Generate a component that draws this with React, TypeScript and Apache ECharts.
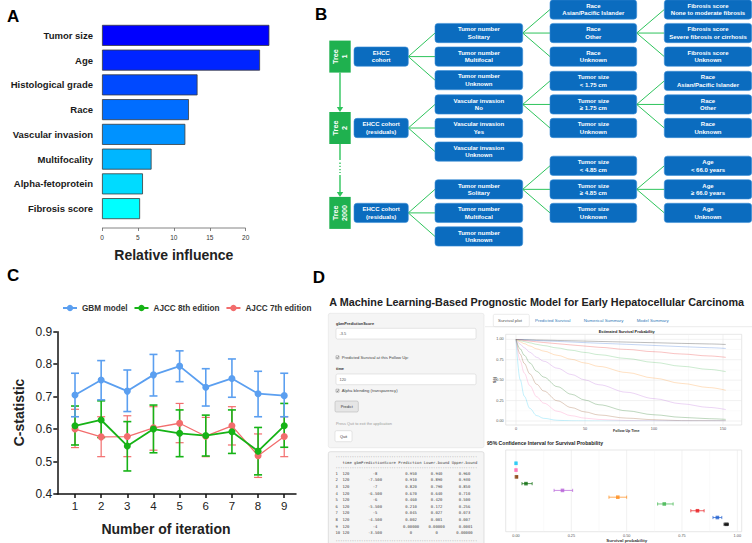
import React, { useEffect, useRef } from "react";
import * as echarts from "echarts";

const FONT = "'Liberation Sans', Arial, Helvetica, sans-serif";
const MONO = "'DejaVu Sans Mono', 'Liberation Mono', monospace";

// ---------------- Panel A data ----------------
const influenceLabels = ["Tumor size", "Age", "Histological grade", "Race", "Vascular invasion", "Multifocality", "Alpha-fetoprotein", "Fibrosis score"];
const influenceValues = [23.3, 22.0, 13.3, 12.1, 11.6, 6.9, 5.7, 5.3];
const influenceColors = ["#0000ff", "#0024ff", "#0049ff", "#006dff", "#0092ff", "#00b6ff", "#00dbff", "#00ffff"];
const influenceTicks = [0, 5, 10, 15, 20];

// ---------------- Panel B data ----------------
const treeNames = ["Tree\n1", "Tree\n2", "Tree\n2000"];
const rootNodes = ["EHCC\ncohort", "EHCC cohort\n(residuals)", "EHCC cohort\n(residuals)"];
const level1Nodes = [
  ["Tumor number\nSolitary", "Tumor number\nMultifocal", "Tumor number\nUnknown"],
  ["Vascular invasion\nNo", "Vascular invasion\nYes", "Vascular invasion\nUnknown"],
  ["Tumor number\nSolitary", "Tumor number\nMultifocal", "Tumor number\nUnknown"],
];
const level1Expanded = [0, 0, 0];
const level2Nodes = [
  ["Race\nAsian/Pacific Islander", "Race\nOther", "Race\nUnknown"],
  ["Tumor size\n< 1.75 cm", "Tumor size\n≥ 1.75 cm", "Tumor size\nUnknown"],
  ["Tumor size\n< 4.85 cm", "Tumor size\n≥ 4.85 cm", "Tumor size\nUnknown"],
];
const level2Expanded = [1, 1, 1];
const level3Nodes = [
  ["Fibrosis score\nNone to moderate fibrosis", "Fibrosis score\nSevere fibrosis or cirrhosis", "Fibrosis score\nUnknown"],
  ["Race\nAsian/Pacific Islander", "Race\nOther", "Race\nUnknown"],
  ["Age\n< 66.0 years", "Age\n≥ 66.0 years", "Age\nUnknown"],
];

// ---------------- Panel C data ----------------
const iterations = [1, 2, 3, 4, 5, 6, 7, 8, 9];
const seriesNames = ["GBM model", "AJCC 8th edition", "AJCC 7th edition"];
const seriesColors = ["#5b9ff0", "#16b316", "#f26d6d"];
const gbmMean = [0.705, 0.751, 0.717, 0.767, 0.794, 0.729, 0.756, 0.709, 0.703];
const gbmLow = [0.638, 0.690, 0.654, 0.702, 0.746, 0.671, 0.698, 0.638, 0.638];
const gbmHigh = [0.772, 0.811, 0.782, 0.830, 0.841, 0.786, 0.816, 0.778, 0.772];
const ajcc8Mean = [0.610, 0.628, 0.548, 0.600, 0.587, 0.580, 0.592, 0.532, 0.610];
const ajcc8Low = [0.551, 0.574, 0.471, 0.527, 0.515, 0.517, 0.525, 0.459, 0.544];
const ajcc8High = [0.671, 0.687, 0.623, 0.674, 0.659, 0.643, 0.659, 0.605, 0.679];
const ajcc7Mean = [0.600, 0.576, 0.577, 0.604, 0.618, 0.578, 0.610, 0.518, 0.577];
const ajcc7Low = [0.543, 0.515, 0.515, 0.535, 0.558, 0.515, 0.551, 0.451, 0.515];
const ajcc7High = [0.661, 0.638, 0.641, 0.669, 0.679, 0.636, 0.669, 0.585, 0.638];
const cYTicks = [0.4, 0.9];

// ---------------- Panel D data ----------------
const dTitle = "A Machine Learning-Based Prognostic Model for Early Hepatocellular Carcinoma";
const tabLabels = ["Survival plot", "Predicted Survival", "Numerical Summary", "Model Summary"];
const scoreInput = "-3.5";
const timeInput = "120";
const followUpTime = 120;
const predScores = [-8, -7.5, -7, -6.5, -6, -5.5, -5, -4.5, -4, -3.5];
const predText = ["0.950", "0.910", "0.820", "0.670", "0.460", "0.210", "0.045", "0.002", "0.00000", "0"];
const lowerText = ["0.940", "0.890", "0.790", "0.640", "0.420", "0.172", "0.027", "0.001", "0.00000", "0"];
const upperText = ["0.960", "0.930", "0.850", "0.710", "0.500", "0.256", "0.073", "0.007", "0.0001", "0.00000"];
const predValues = [0.950, 0.910, 0.820, 0.670, 0.460, 0.210, 0.045, 0.002, 0.0, 0.0];
const lowerValues = [0.940, 0.890, 0.790, 0.640, 0.420, 0.172, 0.027, 0.001, 0.0, 0.0];
const upperValues = [0.960, 0.930, 0.850, 0.710, 0.500, 0.256, 0.073, 0.007, 0.0001, 0.0];
const groupColors = ["#000000", "#1f5fd0", "#e8191c", "#3cb44b", "#ff8c1a", "#b660d8", "#0b6b0b", "#8b4513", "#ff6eb4", "#1ec8f5"];
const survTimes = [0, 3, 6, 10, 15, 20, 30, 40, 50, 60, 80, 100, 120, 140, 152];
const survCurves = [
  [1, 0.998, 0.996, 0.994, 0.992, 0.990, 0.986, 0.982, 0.978, 0.974, 0.966, 0.958, 0.950, 0.943, 0.937],
  [1, 0.996, 0.993, 0.990, 0.985, 0.981, 0.974, 0.967, 0.959, 0.952, 0.939, 0.925, 0.910, 0.897, 0.888],
  [1, 0.992, 0.986, 0.978, 0.969, 0.961, 0.946, 0.931, 0.917, 0.902, 0.876, 0.848, 0.820, 0.796, 0.779],
  [1, 0.984, 0.972, 0.957, 0.938, 0.923, 0.894, 0.866, 0.839, 0.812, 0.765, 0.717, 0.670, 0.631, 0.604],
  [1, 0.969, 0.947, 0.918, 0.883, 0.856, 0.804, 0.756, 0.710, 0.668, 0.594, 0.525, 0.460, 0.409, 0.376],
  [1, 0.940, 0.897, 0.842, 0.779, 0.732, 0.646, 0.570, 0.503, 0.444, 0.352, 0.274, 0.210, 0.166, 0.140],
  [1, 0.883, 0.805, 0.711, 0.609, 0.538, 0.420, 0.328, 0.256, 0.199, 0.125, 0.076, 0.045, 0.028, 0.020],
  [1, 0.819, 0.705, 0.577, 0.449, 0.368, 0.247, 0.165, 0.111, 0.074, 0.035, 0.016, 0.004, 0.003, 0.002],
  [1, 0.738, 0.587, 0.433, 0.296, 0.219, 0.119, 0.065, 0.035, 0.019, 0.006, 0.002, 0.0005, 0.0002, 0.0001],
  [1, 0.507, 0.304, 0.154, 0.066, 0.033, 0.009, 0.002, 0.0006, 0, 0, 0, 0, 0, 0],
];
const survXTicks = [0, 50, 100, 150];
const survYTicks = [0, 0.25, 0.5, 0.75, 1];
const ciXTicks = [0, 0.25, 0.5, 0.75, 1];

function center(s: string, w: number) {
  const total = Math.max(0, w - s.length);
  const l = Math.ceil(total / 2);
  return " ".repeat(l) + s + " ".repeat(total - l);
}

function buildOption() {
  const g: any[] = [];
  const T = (x: number, y: number, text: string, s: any = {}, extra: any = {}) =>
    g.push({ type: "text", x, y, silent: true, ...extra, style: { text, fontFamily: FONT, fontSize: 10, fill: "#000", align: "left", verticalAlign: "middle", ...s } });
  const R = (x: number, y: number, w: number, h: number, style: any, r = 0) =>
    g.push({ type: "rect", silent: true, shape: { x, y, width: w, height: h, r }, style });
  const L = (x1: number, y1: number, x2: number, y2: number, stroke: string, lineWidth = 1, extra: any = {}) =>
    g.push({ type: "line", silent: true, shape: { x1, y1, x2, y2 }, style: { stroke, lineWidth, ...extra } });

  // panel letters
  T(7, 16, "A", { fontSize: 17, fontWeight: "bold" });
  T(315, 14.5, "B", { fontSize: 17, fontWeight: "bold" });
  T(7, 275.5, "C", { fontSize: 17, fontWeight: "bold" });
  T(312.7, 277.5, "D", { fontSize: 17, fontWeight: "bold" });

  // ---------- Panel A decorations ----------
  const A = { left: 102, top: 23, width: 172.4, height: 198, max: 24 };
  const ax = (v: number) => A.left + (v * A.width) / A.max;
  L(ax(0), A.top + A.height + 7, ax(20), A.top + A.height + 7, "#666", 0.8);
  T(ax(10), 255, "Relative influence", { fontSize: 14, fontWeight: "bold", align: "center", fill: "#222" });

  // ---------- Panel B: boosting trees ----------
  const blue = "#0b6cbf";
  const green = "#1fb14f";
  const lineGreen = "#2ec45c";
  const cols = [
    { x: 354, w: 54.3 },
    { x: 435, w: 87.7 },
    { x: 550, w: 86.7 },
    { x: 664.3, w: 87.4 },
  ];
  const boxH = 19.3;
  const pitch = 23.55;
  const treeX = 329.3, treeW = 21.4, treeH = 32;
  const rootY = [56.6, 128, 212.9];
  const box = (col: number, cy: number, text: string) => {
    const c = cols[col];
    R(c.x, cy - boxH / 2, c.w, boxH, { fill: blue, stroke: "#3d8fd6", lineWidth: 0.6 }, 3);
    T(c.x + c.w / 2, cy, text, { fill: "#fff", fontSize: 6, fontWeight: "bold", align: "center", lineHeight: 7.6 });
  };
  const fan = (col: number, cy: number, children: number[]) => {
    const c = cols[col];
    const n = cols[col + 1];
    children.forEach((y) => L(c.x + c.w, cy, n.x, y, lineGreen, 1));
  };
  treeNames.forEach((name, t) => {
    const cy = rootY[t];
    R(treeX, cy - treeH / 2, treeW, treeH, { fill: green });
    T(treeX + treeW / 2, cy, name, { fill: "#fff", fontSize: 7.2, fontWeight: "bold", align: "center", lineHeight: 8.5 }, { rotation: Math.PI / 2 });
    const l1 = [cy - pitch, cy, cy + pitch];
    fan(0, cy, l1);
    box(0, cy, rootNodes[t]);
    const s1 = l1[level1Expanded[t]];
    const l2 = [s1 - pitch, s1, s1 + pitch];
    fan(1, s1, l2);
    l1.forEach((y, i) => box(1, y, level1Nodes[t][i]));
    const s2 = l2[level2Expanded[t]];
    const l3 = [s2 - pitch, s2, s2 + pitch];
    fan(2, s2, l3);
    l2.forEach((y, i) => box(2, y, level2Nodes[t][i]));
    l3.forEach((y, i) => box(3, y, level3Nodes[t][i]));
  });
  const arrowX = treeX + treeW / 2;
  const arrowHead = (yTip: number) =>
    g.push({ type: "polygon", silent: true, shape: { points: [[arrowX - 3.2, yTip - 5], [arrowX + 3.2, yTip - 5], [arrowX, yTip]] }, style: { fill: lineGreen } });
  L(arrowX, rootY[0] + treeH / 2, arrowX, rootY[1] - treeH / 2 - 3, lineGreen, 1.4);
  arrowHead(rootY[1] - treeH / 2);
  const a2 = rootY[1] + treeH / 2;
  const b2 = rootY[2] - treeH / 2;
  L(arrowX, a2, arrowX, a2 + 16, lineGreen, 1.4);
  L(arrowX, a2 + 18.5, arrowX, a2 + 29, lineGreen, 1.4, { lineDash: [1.4, 1.8] });
  L(arrowX, a2 + 31, arrowX, b2 - 3, lineGreen, 1.4);
  arrowHead(b2);

  // ---------- Panel C decorations ----------
  T(166, 528.7, "Number of iteration", { fontSize: 14, fontWeight: "bold", align: "center", fill: "#222" });
  T(18.7, 412.5, "C-statistic", { fontSize: 14, fontWeight: "bold", align: "center", fill: "#222" }, { rotation: Math.PI / 2 });

  // ---------- Panel D ----------
  T(329.3, 301.7, dTitle, { fontSize: 10.8, fontWeight: "bold", fill: "#222" });
  // sidebar
  R(328.3, 313.3, 155.7, 134.4, { fill: "#f5f5f5", stroke: "#e3e3e3", lineWidth: 0.6 }, 2);
  const small = { fontSize: 3.9, fill: "#444" };
  T(336, 323.3, "gbmPredictionScore", { ...small, fontWeight: "bold", fill: "#333" });
  R(336, 328.3, 140, 10.7, { fill: "#fff", stroke: "#ccc", lineWidth: 0.5 }, 1.5);
  T(339.5, 333.7, scoreInput, { ...small, fill: "#555" });
  R(336, 355.8, 3, 3, { fill: "#fff", stroke: "#666", lineWidth: 0.4 });
  L(336.6, 357.4, 337.4, 358.3, "#333", 0.5);
  L(337.4, 358.3, 338.6, 356.3, "#333", 0.5);
  T(341.7, 357.3, "Predicted Survival at this Follow Up:", { ...small, fontSize: 4.2 });
  T(336, 368, "time", { ...small, fontWeight: "bold", fill: "#333" });
  R(336, 374, 140, 10.7, { fill: "#fff", stroke: "#ccc", lineWidth: 0.5 }, 1.5);
  T(339.5, 379.4, timeInput, { ...small, fill: "#555" });
  R(336, 389.2, 3, 3, { fill: "#fff", stroke: "#666", lineWidth: 0.4 });
  L(336.6, 390.8, 337.4, 391.7, "#333", 0.5);
  L(337.4, 391.7, 338.6, 389.7, "#333", 0.5);
  T(341.7, 390.7, "Alpha blending (transparency)", { ...small, fontSize: 4.2 });
  R(335, 401, 23.3, 11, { fill: "#e6e6e6", stroke: "#adadad", lineWidth: 0.5 }, 1.5);
  T(346.7, 406.5, "Predict", { ...small, align: "center", fill: "#333" });
  T(336, 423.3, "Press Quit to exit the application", { ...small, fill: "#999" });
  R(335, 430.7, 17, 11, { fill: "#fff", stroke: "#ccc", lineWidth: 0.5 }, 1.5);
  T(343.5, 436.2, "Quit", { ...small, align: "center", fill: "#333" });

  // table
  R(328.3, 451.7, 155.7, 95, { fill: "#f5f5f5", stroke: "#cccccc", lineWidth: 0.6 }, 2);
  const mono = { fontFamily: MONO, fontSize: 3.86, fill: "#444" };
  const header = "   time gbmPredictionScore Prediction Lower.bound Upper.bound";
  const dash = "-".repeat(header.length);
  T(335.5, 456.7, dash, mono);
  T(335.5, 462.7, header, mono);
  T(335.5, 467.5, dash, mono);
  predScores.forEach((s, i) => {
    const sStr = Number.isInteger(s) ? String(s) : s.toFixed(3);
    const row =
      String(i + 1).padEnd(3) +
      String(followUpTime).padEnd(4) +
      " " + center(sStr, 18) +
      " " + center(predText[i], 10) +
      " " + center(lowerText[i], 11) +
      " " + center(upperText[i], 11);
    T(335.5, 473.3 + i * 6.6, row, mono);
  });
  T(335.5, 540, dash, mono);

  // tabs
  R(493.3, 314.3, 36, 12.4, { fill: "#fff", stroke: "#ddd", lineWidth: 0.6 }, 1.5);
  L(485, 326.7, 752, 326.7, "#ddd", 0.6);
  const tabX = [498, 535, 583.7, 636.7];
  tabLabels.forEach((t, i) => T(tabX[i], 320.3, t, { fontSize: 4.4, fill: i === 0 ? "#555" : "#337ab7" }));

  // survival plot frame
  const S = { left: 516, top: 339.3, width: 220.8, height: 81.7, xmax: 160 };
  const sx = (v: number) => S.left + (v * S.width) / S.xmax;
  const sy = (v: number) => S.top + S.height - v * S.height;
  const panelS = { x: 505.7, y: 334.3, w: 236, h: 90.7 };
  R(panelS.x, panelS.y, panelS.w, panelS.h, { fill: "none", stroke: "#d6d6d6", lineWidth: 0.6 });
  [25, 75, 125].forEach((v) => L(sx(v), panelS.y, sx(v), panelS.y + panelS.h, "#f3f3f3", 0.4));
  survXTicks.forEach((v) => L(sx(v), panelS.y, sx(v), panelS.y + panelS.h, "#e8e8e8", 0.6));
  [0.125, 0.375, 0.625, 0.875].forEach((v) => L(panelS.x, sy(v), panelS.x + panelS.w, sy(v), "#f3f3f3", 0.4));
  survYTicks.forEach((v) => L(panelS.x, sy(v), panelS.x + panelS.w, sy(v), "#e8e8e8", 0.6));
  T(626.7, 331.4, "Estimated Survival Probability", { fontSize: 3.9, fontWeight: "bold", align: "center", fill: "#222" });
  T(626.3, 431, "Follow Up Time", { fontSize: 3.6, fontWeight: "bold", align: "center", fill: "#333" });
  T(494.5, 380, "S(t)", { fontSize: 3.6, fontWeight: "bold", align: "center", fill: "#333" }, { rotation: Math.PI / 2 });

  // CI plot frame
  const C = { left: 516, width: 221.3 };
  const cx = (v: number) => C.left + v * C.width;
  const panelC = { x: 505.7, y: 450, w: 236, h: 81.7 };
  R(panelC.x, panelC.y, panelC.w, panelC.h, { fill: "none", stroke: "#d6d6d6", lineWidth: 0.6 });
  [0.125, 0.375, 0.625, 0.875].forEach((v) => L(cx(v), panelC.y, cx(v), panelC.y + panelC.h, "#f3f3f3", 0.4));
  ciXTicks.forEach((v) => L(cx(v), panelC.y, cx(v), panelC.y + panelC.h, "#e8e8e8", 0.6));
  T(487, 442.7, "95% Confidence Interval for Survival Probability", { fontSize: 5.1, fontWeight: "bold", fill: "#222" });
  T(626.7, 540.5, "Survival probability", { fontSize: 4.4, fontWeight: "bold", align: "center", fill: "#333" });

  // ---------- series ----------
  const means = [gbmMean, ajcc8Mean, ajcc7Mean];
  const lows = [gbmLow, ajcc8Low, ajcc7Low];
  const highs = [gbmHigh, ajcc8High, ajcc7High];

  const vErr = (color: string, w: number) => (_p: any, api: any) => {
    const x = api.value(0);
    const lo = api.coord([x, api.value(1)]);
    const hi = api.coord([x, api.value(2)]);
    const c = 4;
    const st = { stroke: color, lineWidth: w };
    return {
      type: "group",
      children: [
        { type: "line", shape: { x1: lo[0], y1: lo[1], x2: hi[0], y2: hi[1] }, style: st },
        { type: "line", shape: { x1: lo[0] - c, y1: lo[1], x2: lo[0] + c, y2: lo[1] }, style: st },
        { type: "line", shape: { x1: hi[0] - c, y1: hi[1], x2: hi[0] + c, y2: hi[1] }, style: st },
      ],
    };
  };

  const series: any[] = [];
  series.push({
    type: "bar",
    xAxisIndex: 0,
    yAxisIndex: 0,
    barWidth: 21,
    data: influenceValues.map((v, i) => ({ value: v, itemStyle: { color: influenceColors[i], borderColor: "#3b3b3b", borderWidth: 0.8 } })),
  });

  [2, 1, 0].forEach((k) => {
    series.push({
      type: "custom",
      name: "err" + k,
      xAxisIndex: 1,
      yAxisIndex: 1,
      z: 3,
      silent: true,
      renderItem: vErr(seriesColors[k], k === 2 ? 1.2 : 1.6),
      encode: { x: 0, y: [1, 2] },
      data: iterations.map((x, i) => [x, lows[k][i], highs[k][i]]),
    });
    series.push({
      type: "line",
      name: seriesNames[k],
      xAxisIndex: 1,
      yAxisIndex: 1,
      z: 4,
      symbol: "circle",
      symbolSize: 7,
      itemStyle: { color: seriesColors[k] },
      lineStyle: { color: seriesColors[k], width: k === 2 ? 1.3 : 1.8 },
      data: iterations.map((x, i) => [x, means[k][i]]),
    });
  });

  survCurves.forEach((curve, i) => {
    series.push({
      type: "line",
      name: "surv" + i,
      xAxisIndex: 2,
      yAxisIndex: 2,
      showSymbol: false,
      symbol: "none",
      smooth: 0.35,
      smoothMonotone: "x",
      silent: true,
      lineStyle: { color: groupColors[i], width: 0.7, opacity: 0.38 },
      data: survTimes.map((t, j) => [t, curve[j]]),
    });
  });

  series.push({
    type: "custom",
    name: "ci",
    xAxisIndex: 3,
    yAxisIndex: 3,
    silent: true,
    encode: { x: [1, 2], y: 0 },
    data: predScores.map((s, i) => [s, lowerValues[i], upperValues[i], i]),
    renderItem: (_p: any, api: any) => {
      const y = api.value(0);
      const a = api.coord([api.value(1), y]);
      const b = api.coord([api.value(2), y]);
      const color = groupColors[api.value(3)];
      const c = 1.6;
      const st = { stroke: color, lineWidth: 0.7 };
      return {
        type: "group",
        children: [
          { type: "line", shape: { x1: a[0], y1: a[1], x2: b[0], y2: b[1] }, style: st },
          { type: "line", shape: { x1: a[0], y1: a[1] - c, x2: a[0], y2: a[1] + c }, style: st },
          { type: "line", shape: { x1: b[0], y1: b[1] - c, x2: b[0], y2: b[1] + c }, style: st },
        ],
      };
    },
  });
  series.push({
    type: "scatter",
    name: "pred",
    xAxisIndex: 3,
    yAxisIndex: 3,
    symbol: "rect",
    symbolSize: 3.6,
    silent: true,
    data: predScores.map((s, i) => ({ value: [predValues[i], s], itemStyle: { color: groupColors[i] } })),
  });

  const hidden = { show: false };

  return {
    animation: false,
    backgroundColor: "#ffffff",
    textStyle: { fontFamily: FONT },
    grid: [
      { left: A.left, top: A.top, width: A.width, height: A.height },
      { left: 57.3, top: 331.7, width: 238.7, height: 162.3 },
      { left: S.left, top: S.top, width: S.width, height: S.height },
      { left: C.left, top: 463.3, width: C.width, height: 61 },
    ],
    legend: {
      data: seriesNames,
      left: 57,
      top: 299,
      itemWidth: 14,
      itemHeight: 8,
      itemGap: 6,
      textStyle: { fontFamily: FONT, fontSize: 8.2, fontWeight: "bold", color: "#333" },
    },
    xAxis: [
      {
        gridIndex: 0,
        type: "value",
        min: 0,
        max: A.max,
        offset: 7,
        axisLine: hidden,
        splitLine: hidden,
        axisTick: { show: true, length: 3, customValues: influenceTicks, lineStyle: { color: "#666", width: 0.8 } },
        axisLabel: { customValues: influenceTicks, fontSize: 6.5, color: "#333", margin: 6, fontFamily: FONT },
      },
      {
        gridIndex: 1,
        type: "value",
        min: 0.323,
        max: 9.45,
        splitLine: hidden,
        axisLine: { lineStyle: { color: "#111", width: 1.5 } },
        axisTick: { show: true, length: 4, customValues: iterations, lineStyle: { color: "#111", width: 1.5 } },
        axisLabel: { customValues: iterations, fontSize: 11.5, color: "#222", margin: 6, fontFamily: FONT },
      },
      {
        gridIndex: 2,
        type: "value",
        min: 0,
        max: S.xmax,
        offset: 4,
        axisLine: hidden,
        splitLine: hidden,
        axisTick: hidden,
        axisLabel: { customValues: survXTicks, fontSize: 3.8, color: "#555", margin: 2, fontFamily: FONT },
      },
      {
        gridIndex: 3,
        type: "value",
        min: 0,
        max: 1,
        offset: 7.4,
        axisLine: hidden,
        splitLine: hidden,
        axisTick: hidden,
        axisLabel: { customValues: ciXTicks, fontSize: 3.8, color: "#555", margin: 2.5, fontFamily: FONT, formatter: (v: number) => v.toFixed(2) },
      },
    ],
    yAxis: [
      {
        gridIndex: 0,
        type: "category",
        inverse: true,
        data: influenceLabels,
        axisLine: hidden,
        axisTick: hidden,
        axisLabel: { fontSize: 9.5, fontWeight: "bold", color: "#1a1a1a", margin: 9, fontFamily: FONT },
      },
      {
        gridIndex: 1,
        type: "value",
        min: cYTicks[0],
        max: cYTicks[1],
        interval: 0.1,
        splitLine: hidden,
        axisLine: { show: true, lineStyle: { color: "#111", width: 1.5 } },
        axisTick: { show: true, length: 4, lineStyle: { color: "#111", width: 1.5 } },
        axisLabel: { fontSize: 12, color: "#222", margin: 5, fontFamily: FONT, formatter: (v: number) => v.toFixed(1) },
      },
      {
        gridIndex: 2,
        type: "value",
        min: 0,
        max: 1,
        offset: 10.3,
        axisLine: hidden,
        splitLine: hidden,
        axisTick: hidden,
        axisLabel: { customValues: survYTicks, fontSize: 3.8, color: "#555", margin: 2, fontFamily: FONT, formatter: (v: number) => v.toFixed(2) },
      },
      {
        gridIndex: 3,
        type: "value",
        min: -8,
        max: -3.5,
        axisLine: hidden,
        splitLine: hidden,
        axisTick: hidden,
        axisLabel: hidden,
      },
    ],
    graphic: { elements: g },
    series,
  };
}

export default function App() {
  const ref = useRef<HTMLDivElement>(null);
  useEffect(() => {
    if (!ref.current) return;
    const chart = echarts.init(ref.current, null, { renderer: "svg" });
    chart.setOption(buildOption() as any);
    return () => chart.dispose();
  }, []);
  return (
    <div
      ref={ref}
      style={{ position: "fixed", left: 0, top: 0, width: 752, height: 543, background: "#fff" }}
    />
  );
}
